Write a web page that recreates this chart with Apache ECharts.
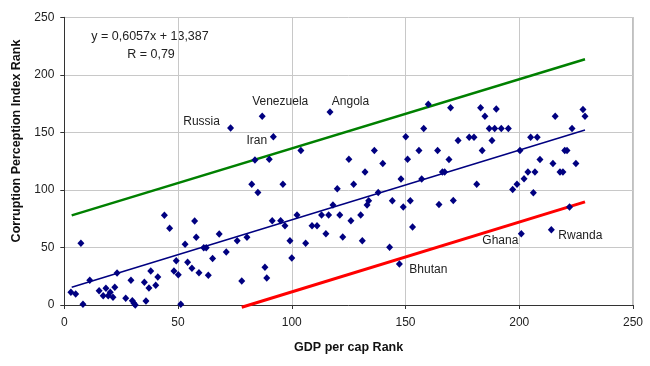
<!DOCTYPE html>
<html>
<head>
<meta charset="utf-8">
<script src="https://cdn.jsdelivr.net/npm/echarts@6/dist/echarts.min.js"></script>
<style>html,body{margin:0;padding:0;background:#fff}#c{width:650px;height:366px}</style>
</head>
<body>
<div id="c"></div>
<script>
// Unlabelled countries: GDP per cap rank (x) and Corruption Perception Index rank (y)
const gdpRank = [2.9,5.0,7.3,8.2,11.2,15.3,17.1,18.3,19.3,20.2,21.4,22.2,23.2,27.0,29.3,29.9,30.6,31.2,35.2,35.9,37.2,38.0,40.2,41.1,44.0,46.3,48.2,50.1,49.2,51.2,53.1,54.2,56.1,57.3,58.0,59.2,61.3,62.4,63.3,65.2,68.1,71.2,76.0,78.0,80.3,82.4,83.8,
 90.1,104.0,85.1,96.1,91.4,95.1,97.0,99.2,100.0,102.3,106.1,108.9,111.1,113.1,115.0,116.2,118.1,120.0,121.1,122.4,125.1,126.0,127.2,130.3,131.0,132.2,133.1,133.8,136.3,138.0,140.0,143.0,144.2,148.0,149.0,150.1,150.9,152.1,153.1,155.9,157.1,158.0,160.0,164.1,164.7,88.2,89.0,
 169.8,183.0,184.9,189.9,186.8,189.2,192.1,195.2,173.1,178.0,180.1,188.0,183.7,169.1,166.2,167.2,181.3,171.0,197.1,199.0,200.3,202.1,203.8,205.0,206.2,206.9,207.9,209.1,214.8,215.8,217.9,219.2,220.0,221.0,223.2,222.1,224.9,228.0,228.9];
const cpiRank = [11.0,9.5,53.6,0.6,21.4,12.4,8.1,14.5,8.1,11.0,6.7,15.4,27.8,5.8,21.4,3.7,1.5,0,19.7,3.5,14.8,29.5,17.1,24.3,77.9,66.8,29.5,26.3,38.5,0.6,52.7,37.1,31.9,72.9,58.8,28.0,49.7,49.7,25.8,40.5,61.6,46.0,55.8,20.8,58.8,105.0,125.9,
 126.7,134.3,97.8,105.0,73.2,73.2,68.8,55.8,40.8,78.1,53.6,68.8,68.8,78.1,61.9,78.1,86.8,101.0,78.1,59.0,126.7,73.2,105.0,78.1,55.8,115.5,86.8,90.5,134.3,97.8,123.0,50.1,90.5,109.4,85.1,146.1,126.7,90.5,67.7,134.3,109.4,153.4,174.5,134.3,87.4,32.7,23.4,
 171.3,171.3,164.1,170.4,153.4,153.4,153.4,153.4,143.0,145.8,145.8,143.0,134.3,126.5,115.5,115.5,105.0,90.9,100.4,105.0,134.3,109.6,115.5,145.8,97.5,115.5,145.8,126.5,123.0,164.1,115.5,115.5,134.3,134.3,153.4,85.1,123.0,169.9,164.1];

// Labelled countries
const namedCountries = ["Russia","Venezuela","Angola","Iran","Bhutan","Ghana","Rwanda"];
const namedGdp = [73.1,87.0,116.8,91.9,147.3,200.9,214.1];
const namedCpi = [153.9,164.1,167.8,146.1,35.6,61.9,65.4];

// Trend line (regression) and band lines, endpoints
const trendLine = [[3.25,15.4],[228.9,152.0]];
const upperLine = [[3.25,77.9],[228.9,213.5]];
const lowerLine = [[78,-2],[228.9,89.6]];

const axisTicks = [0,50,100,150,200,250];
const equationText = "y = 0,6057x + 13,387";
const rText = "R = 0,79";

// label offsets from marker centre (styling)
const labelOffset = {
  Russia:[-29,-6.5], Venezuela:[18,-14.5], Angola:[20.5,-10], Iran:[-16.5,4],
  Bhutan:[29,5.5], Ghana:[-21,6.5], Rwanda:[29,6]
};

const FONT = "'Liberation Sans', Arial, sans-serif";
const SYM = [7,7.5];
const chart = echarts.init(document.getElementById('c'), null, {renderer:'canvas'});

const pts = gdpRank.map((x,i)=>[x,cpiRank[i]]);
const named = namedCountries.map((n,i)=>({
  name:n, value:[namedGdp[i],namedCpi[i]],
  label:{show:true, formatter:n,
    position:[SYM[0]/2 + labelOffset[n][0], SYM[1]/2 + labelOffset[n][1]],
    align:'center', verticalAlign:'middle', color:'#222', fontSize:12, fontFamily:FONT,
    textBorderWidth:0, opacity:1}
}));

const option = {
  backgroundColor:'#fff',
  animation:false,
  grid:{left:64.3, right:17, top:17.3, bottom:61, containLabel:false},
  xAxis:{
    type:'value', min:axisTicks[0], max:axisTicks[axisTicks.length-1], interval:50,
    name:'GDP per cap Rank', nameLocation:'middle', nameGap:36,
    nameTextStyle:{fontFamily:FONT, fontSize:12.5, fontWeight:'bold', color:'#111'},
    axisLine:{show:true, lineStyle:{color:'#333', width:1}},
    axisTick:{show:true, inside:false, length:4, lineStyle:{color:'#333'}},
    axisLabel:{margin:12, fontFamily:FONT, fontSize:12, color:'#222'},
    splitLine:{show:true, lineStyle:{color:'#c8c8c8', width:1}}
  },
  yAxis:{
    type:'value', min:axisTicks[0], max:axisTicks[axisTicks.length-1], interval:50,
    axisLine:{show:true, lineStyle:{color:'#333', width:1}},
    axisTick:{show:true, inside:false, length:4, lineStyle:{color:'#333'}},
    axisLabel:{margin:10, fontFamily:FONT, fontSize:12, color:'#222'},
    splitLine:{show:true, lineStyle:{color:'#c8c8c8', width:1}}
  },
  graphic:[
    {type:'rect', shape:{x:633, y:17.3, width:0, height:287.7}, style:{stroke:'#aaa', lineWidth:1, fill:null}, silent:true},
    {type:'text', x:16.5, y:141, rotation:Math.PI/2, style:{text:'Corruption Perception Index Rank', fontFamily:FONT, fontSize:12.5, fontWeight:'bold', fill:'#111', align:'center', verticalAlign:'middle'}},
    {type:'text', x:150, y:37, style:{text:equationText, fontFamily:FONT, fontSize:12.5, fill:'#222', align:'center', verticalAlign:'middle'}},
    {type:'text', x:151, y:54.5, style:{text:rText, fontFamily:FONT, fontSize:12.5, fill:'#222', align:'center', verticalAlign:'middle'}}
  ],
  series:[
    {type:'line', data:upperLine, symbol:'none', clip:false, lineStyle:{color:'#008000', width:2.5}, z:2},
    {type:'line', data:lowerLine, symbol:'none', clip:false, lineStyle:{color:'#ff0000', width:3}, z:2},
    {type:'line', data:trendLine, symbol:'none', clip:false, lineStyle:{color:'#000080', width:1.5}, z:2},
    {type:'scatter', data:pts, symbol:'diamond', symbolSize:SYM, itemStyle:{color:'#000080', opacity:1}, z:3},
    {type:'scatter', data:named, symbol:'diamond', symbolSize:SYM, itemStyle:{color:'#000080', opacity:1}, z:3}
  ]
};
chart.setOption(option);
</script>
</body>
</html>
